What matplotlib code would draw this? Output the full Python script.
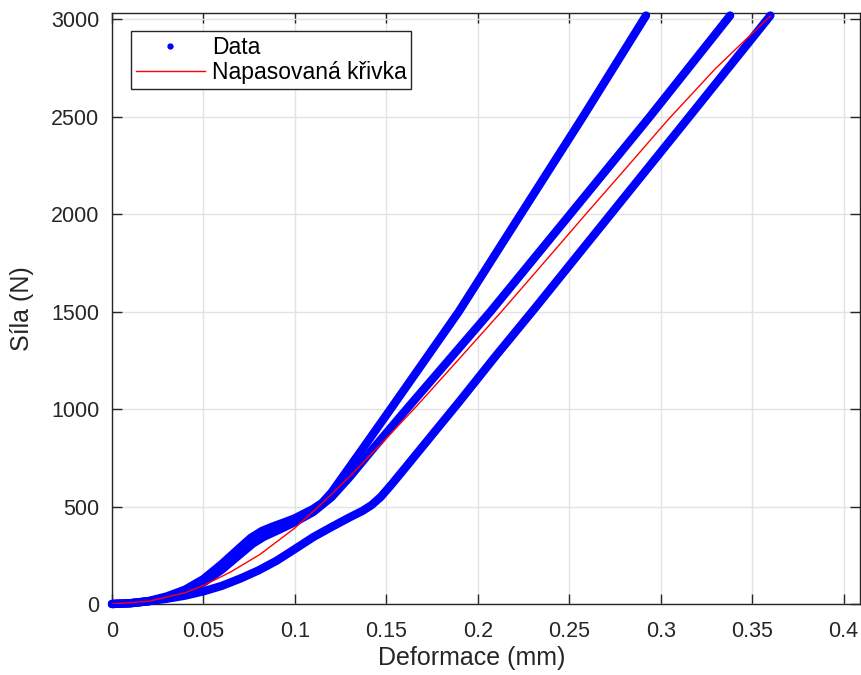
import numpy as np
import matplotlib.pyplot as plt
from matplotlib.lines import Line2D
from matplotlib.ticker import FuncFormatter

# -------------------------
# DATA
# -------------------------
# curve A - steepest loading branch
a_def = [0, 0.01, 0.02, 0.03, 0.04, 0.05, 0.06, 0.07, 0.076, 0.082, 0.088,
         0.095, 0.1, 0.11, 0.115, 0.12, 0.125, 0.1365, 0.1523, 0.1896,
         0.2235, 0.2575, 0.292]
a_force = [0, 4, 15, 39, 74, 128, 205, 290, 340, 375, 398,
           422, 440, 488, 520, 572, 638, 790, 1000, 1500,
           2000, 2500, 3020]

# curve B - middle branch
b_def = [0, 0.01, 0.02, 0.03, 0.04, 0.05, 0.06, 0.07, 0.077, 0.083, 0.09,
         0.1, 0.11, 0.12, 0.13, 0.143, 0.162, 0.2069, 0.2505, 0.294, 0.338]
b_force = [0, 4, 14, 35, 65, 110, 176, 255, 310, 345, 375,
           420, 472, 548, 652, 800, 1010, 1500, 2000, 2500, 3020]

# curve C - lower branch
c_def = [0, 0.01, 0.02, 0.03, 0.04, 0.05, 0.06, 0.07, 0.08, 0.09, 0.1, 0.11,
         0.12, 0.13, 0.137, 0.142, 0.147, 0.153, 0.16, 0.17, 0.18, 0.189,
         0.21, 0.231, 0.2735, 0.316, 0.36]
c_force = [0, 4, 14, 27, 43, 65, 93, 130, 172, 222, 282, 343,
           395, 445, 478, 508, 550, 615, 695, 810, 925, 1028,
           1275, 1515, 2010, 2505, 3020]

# fitted curve
fit_def = [0, 0.02, 0.04, 0.05, 0.065, 0.081, 0.1, 0.115, 0.13, 0.147,
           0.167, 0.19, 0.2129, 0.236, 0.259, 0.282, 0.3045, 0.33, 0.36]
fit_force = [0, 14, 58, 95, 165, 255, 390, 518, 655, 820,
             1020, 1260, 1500, 1750, 2000, 2247, 2490, 2748, 3018]

x_ticks = [0, 0.05, 0.1, 0.15, 0.2, 0.25, 0.3, 0.35, 0.4]
y_ticks = [0, 500, 1000, 1500, 2000, 2500, 3000]

plt.rcParams['font.family'] = ['Liberation Sans', 'DejaVu Sans']
axis_col = '#262626'

fig = plt.figure(figsize=(8.62, 6.75), dpi=100)
ax = fig.add_axes([112 / 862, (675 - 604) / 675, 748 / 862, 591 / 675])

for xs, ys in [(a_def, a_force), (b_def, b_force), (c_def, c_force)]:
    ax.plot(xs, ys, '-', color='#0000ff', lw=6, solid_capstyle='round',
            solid_joinstyle='round', clip_on=False, zorder=3)

ax.plot(fit_def, fit_force, '-', color='#ff0000', lw=1.0, zorder=4)

ax.set_xlim(0, 0.409)
ax.set_ylim(0, 3033)
ax.set_xticks(x_ticks)
ax.set_yticks(y_ticks)
ax.xaxis.set_major_formatter(FuncFormatter(lambda v, p: f'{v:g}'))
ax.yaxis.set_major_formatter(FuncFormatter(lambda v, p: f'{v:g}'))

ax.grid(True, color='#e3e3e3', lw=1.0)
ax.set_axisbelow(True)
ax.tick_params(direction='in', length=7, width=1, colors=axis_col,
               labelsize=15.5, top=True, right=True)
ax.tick_params(axis='x', pad=12)
ax.tick_params(axis='y', pad=9)
for s in ax.spines.values():
    s.set_color(axis_col)
    s.set_linewidth(1.0)

ax.set_xlabel('Deformace (mm)', fontsize=18, color=axis_col)
ax.xaxis.set_label_coords((472 - 112) / 748, -(658 - 604) / 591)
ax.xaxis.label.set_va('center')
ax.set_ylabel('Síla (N)', fontsize=18, color=axis_col)
ax.yaxis.set_label_coords(-(112 - 22) / 748, 0.5)
ax.yaxis.label.set_va('center')

handles = [Line2D([], [], color='#0000ff', marker='.', ls='none', ms=7),
           Line2D([], [], color='#ff0000', lw=1.0)]
leg = ax.legend(handles, ['Data', 'Napasovaná křivka'], loc='upper left',
                bbox_to_anchor=(0.0254, 0.9695), borderaxespad=0,
                fontsize=16.5, fancybox=False, framealpha=1,
                handlelength=3.0, handletextpad=0.3, borderpad=0.22,
                labelspacing=0.08)
leg.get_frame().set_edgecolor(axis_col)
leg.get_frame().set_linewidth(1.0)

plt.savefig('out.png', dpi=100)
plt.close()
